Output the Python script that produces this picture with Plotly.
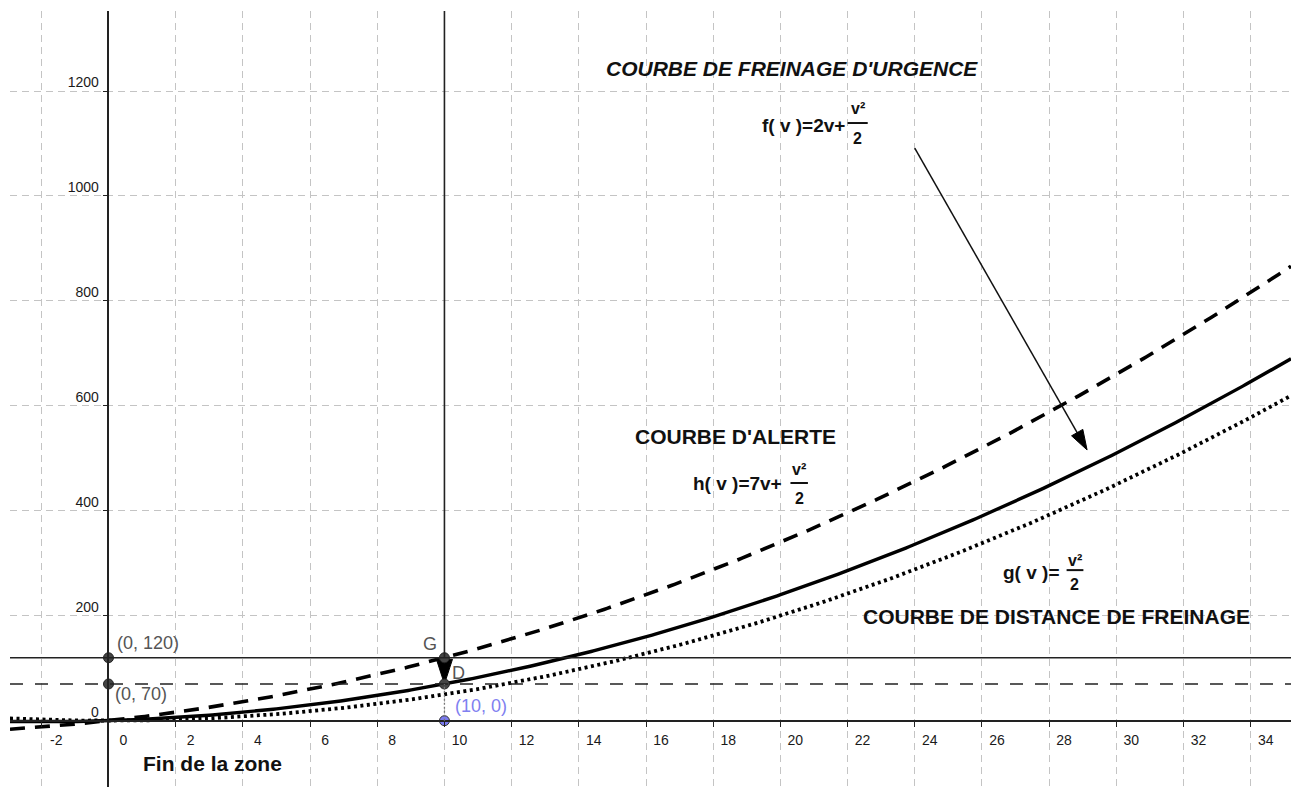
import numpy as np
import plotly.graph_objects as go

# Braking-distance models d(v) = a*v + b*v^2 (coefficients as written on the chart)
f_coef = [2, 0.5]    # courbe de freinage d'urgence : f(v) = 2v + v²/2
h_coef = [7, 0.5]    # courbe d'alerte              : h(v) = 7v + v²/2
g_coef = [0, 0.5]    # distance de freinage         : g(v) = v²/2

# Marked points
point_v = [0, 0, 10, 10]
point_d = [120, 70, 120, 70]
point_labels = ["(0, 120)", "(0, 70)", "G", "D"]
zone_end_point = [10, 0]
zone_end_label = "(10, 0)"

# Reference levels
alert_level = 120
stop_level = 70
zone_end = 10

# Axis ticks
x_ticks = list(range(-2, 35, 2))
x_tick_text = [str(t) for t in x_ticks]
y_ticks = list(range(0, 1201, 200))

X_RANGE = [-2.932, 35.20]
Y_RANGE = [-126.3, 1352.5]

FONT = "Liberation Sans, Arial, sans-serif"
INK = "#111111"

v = np.linspace(X_RANGE[0], X_RANGE[1], 400)


def model(coef):
    return coef[0] * v + coef[1] * v ** 2


fig = go.Figure()

# Curves
fig.add_trace(go.Scatter(x=v, y=model(h_coef), mode="lines",
                         line=dict(color="black", width=3.6, dash="15px,10px")))
fig.add_trace(go.Scatter(x=v, y=model(g_coef), mode="lines",
                         line=dict(color="black", width=3.8, dash="3px,3.5px")))
fig.add_trace(go.Scatter(x=v, y=model(f_coef), mode="lines",
                         line=dict(color="black", width=3.4)))

# Reference lines
fig.add_shape(type="line", xref="paper", x0=0, x1=1, y0=alert_level, y1=alert_level,
              line=dict(color="#222222", width=1.4))
fig.add_shape(type="line", xref="paper", x0=0, x1=1, y0=stop_level, y1=stop_level,
              line=dict(color="#222222", width=1.3, dash="13px,12px"))
fig.add_shape(type="line", x0=zone_end, x1=zone_end, y0=alert_level, y1=Y_RANGE[1] + 100,
              line=dict(color="#222222", width=1.6))
fig.add_shape(type="line", x0=zone_end, x1=zone_end, y0=0, y1=stop_level,
              line=dict(color="#777777", width=1.3, dash="2px,2px"))

# Vector G -> D
fig.add_trace(go.Scatter(x=[point_v[2], point_v[3]], y=[point_d[2], point_d[3]],
                         mode="lines+markers",
                         line=dict(color="#111111", width=2.2),
                         marker=dict(symbol="arrow", size=[0, 26], angleref="previous",
                                     color="#000000", opacity=1,
                                     line=dict(color="#000000", width=1))))

# Pointer arrow towards the emergency braking curve
arrow_v = [24.0, 29.13]
arrow_d = [1091, 516]
fig.add_trace(go.Scatter(x=arrow_v, y=arrow_d, mode="lines+markers",
                         line=dict(color="#111111", width=1.5),
                         marker=dict(symbol="arrow", size=[0, 21], angleref="previous",
                                     color="#000000", opacity=1,
                                     line=dict(color="#000000", width=1))))

# Points
fig.add_trace(go.Scatter(x=point_v, y=point_d, mode="markers",
                         marker=dict(size=10, color="#444444",
                                     line=dict(color="#222222", width=1))))
fig.add_trace(go.Scatter(x=[zone_end_point[0]], y=[zone_end_point[1]], mode="markers",
                         marker=dict(size=10, color="#7b7bf0",
                                     line=dict(color="#333333", width=1))))

# Point labels
label_pos = [(0.19, 148, "left"), (0.13, 51, "left"), (9.57, 146, "center"), (10.43, 91, "center")]
for text, (lx, ly, anc) in zip(point_labels, label_pos):
    fig.add_annotation(x=lx, y=ly, text=text, showarrow=False, xanchor=anc,
                       font=dict(family=FONT, size=18, color="#555555"))
fig.add_annotation(x=10.26, y=28, text=zone_end_label, showarrow=False, xanchor="left",
                   font=dict(family=FONT, size=18, color="#8080f0"))

# Titles of the curves
titles = [
    ("<b><i>COURBE DE FREINAGE D'URGENCE</i></b>", 20.35, 1243),
    ("<b>COURBE D'ALERTE</b>", 18.65, 541),
    ("<b>COURBE DE DISTANCE DE FREINAGE</b>", 28.21, 199),
    ("<b>Fin de la zone</b>", 3.10, -81),
]
for text, tx, ty in titles:
    fig.add_annotation(x=tx, y=ty, text=text, showarrow=False,
                       font=dict(family=FONT, size=21, color=INK))

# Formulas: left part + stacked fraction v²/2
formulas = [
    # left text, right edge x, y, fraction centre x, v² y, bar y, bar half width, 2 y
    ("f( v )=2v+", 21.99, 1135, 22.30, 1167, 1139, 0.30, 1110),
    ("h( v )=7v+", 20.10, 453, 20.56, 478, 453, 0.26, 423),
    ("g( v )=", 28.34, 283, 28.77, 306, 287, 0.25, 259),
]
for left, rx, ry, cx, ny, by, hw, dy in formulas:
    fig.add_annotation(x=rx, y=ry, text="<b>" + left + "</b>", showarrow=False,
                       xanchor="right", font=dict(family=FONT, size=19, color=INK))
    fig.add_annotation(x=cx, y=ny, text="<b>v²</b>", showarrow=False,
                       font=dict(family=FONT, size=16, color=INK))
    fig.add_annotation(x=cx, y=dy, text="<b>2</b>", showarrow=False,
                       font=dict(family=FONT, size=16, color=INK))
    fig.add_shape(type="line", x0=cx - hw, x1=cx + hw, y0=by, y1=by,
                  line=dict(color=INK, width=2))

# Fragments of text cut off by the top edge
for tx in [6.89, 10.6]:
    fig.add_annotation(x=tx, y=1, yref="paper", yanchor="bottom", yshift=3, text="2",
                       showarrow=False,
                       font=dict(family="Liberation Serif, serif", size=26, color="#222222",
                                 style="italic"))

fig.update_layout(
    width=1301, height=787,
    margin=dict(l=10, r=10, t=11, b=0),
    paper_bgcolor="white", plot_bgcolor="white",
    showlegend=False,
    xaxis=dict(range=X_RANGE, tickvals=x_ticks, ticktext=x_tick_text, anchor="free",
               position=126.3 / (Y_RANGE[1] - Y_RANGE[0]),
               showgrid=True, gridcolor="#c4c4c4", griddash="7px,5px", gridwidth=1.2,
               zeroline=False, showline=True, linecolor="#222222", linewidth=1.6,
               ticks="outside", ticklen=5, tickcolor="#222222", tickwidth=1.4,
               ticklabelshift=15, ticklabelstandoff=2,
               tickfont=dict(family=FONT, size=14, color="#1a1a1a")),
    yaxis=dict(range=Y_RANGE, tickvals=y_ticks, anchor="free",
               position=-X_RANGE[0] / (X_RANGE[1] - X_RANGE[0]),
               showgrid=True, gridcolor="#c4c4c4", griddash="7px,5px", gridwidth=1.2,
               zeroline=False, showline=True, linecolor="#222222", linewidth=1.6,
               ticks="outside", ticklen=5, tickcolor="#222222", tickwidth=1.4,
               ticklabelshift=-9, ticklabelstandoff=1,
               tickfont=dict(family=FONT, size=14, color="#1a1a1a")),
)

fig.write_html("out.html")
